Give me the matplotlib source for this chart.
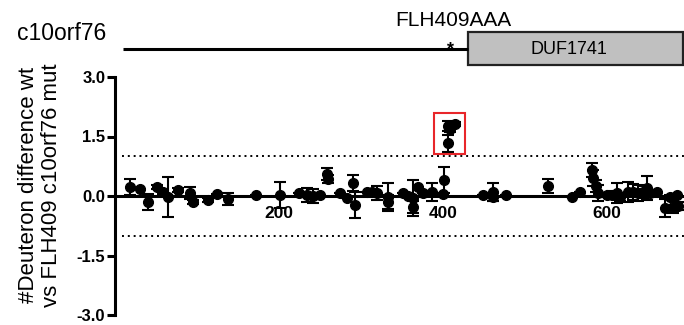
import matplotlib
matplotlib.use('Agg')
import matplotlib.pyplot as plt
from matplotlib.patches import Rectangle

plt.rcParams['font.family'] = ['Liberation Sans', 'DejaVu Sans']

# residue position, deuteron difference, sd
residue = [18, 30, 40, 51, 58, 65, 77, 91, 95, 113, 124, 138,
           172, 201, 224, 234, 242, 250, 258, 260, 274, 283,
           290, 293, 307, 313, 320, 333, 333, 351, 357, 363, 363,
           370, 376, 387, 400, 401,
           406, 409, 415, 406,
           449, 461, 461, 477, 528, 557, 567,
           582, 583, 587, 589, 600, 606, 612, 616, 626, 632, 638, 644,
           649, 652, 661, 671, 677, 680, 685, 687]
diff = [0.23, 0.17, -0.15, 0.23, 0.10, -0.03, 0.15, 0.07, -0.15, -0.10, 0.05, -0.08,
        0.03, 0.02, 0.07, 0.02, 0.0, 0.02, 0.55, 0.42, 0.07, -0.05,
        0.33, -0.22, 0.10, 0.10, 0.07, -0.03, -0.15, 0.07, 0.0, -0.05, -0.27,
        0.23, 0.07, 0.10, 0.05, 0.40,
        1.77, 1.70, 1.82, 1.33,
        0.02, 0.10, -0.03, 0.02, 0.25, -0.03, 0.10,
        0.65, 0.45, 0.25, 0.07, 0.02, 0.02, 0.07, -0.02, 0.10, 0.10, 0.08, 0.10,
        0.20, 0.07, 0.10, -0.30, -0.03, -0.27, 0.02, -0.25]
sd = [0.20, 0.0, 0.20, 0.05, 0.05, 0.50, 0.05, 0.15, 0.05, 0.05, 0.0, 0.15,
      0.0, 0.33, 0.0, 0.17, 0.17, 0.0, 0.15, 0.10, 0.0, 0.0,
      0.20, 0.33, 0.0, 0.05, 0.17, 0.35, 0.18, 0.0, 0.0, 0.45, 0.15,
      0.0, 0.0, 0.22, 0.0, 0.33,
      0.12, 0.08, 0.05, 0.22,
      0.0, 0.22, 0.10, 0.0, 0.18, 0.0, 0.0,
      0.18, 0.20, 0.15, 0.20, 0.05, 0.10, 0.25, 0.10, 0.25, 0.20, 0.20, 0.15,
      0.30, 0.0, 0.0, 0.22, 0.05, 0.15, 0.0, 0.10]

yticks = [-3.0, -1.5, 0.0, 1.5, 3.0]
xticks = [200, 400, 600]
threshold = 1.0

fig = plt.figure(figsize=(6.84, 3.25), dpi=100)
ax = fig.add_axes([115 / 684, 10 / 325, 569 / 684, 238 / 325])
xmax = 569 / 0.82

ax.spines['top'].set_visible(False)
ax.spines['right'].set_visible(False)
ax.spines['left'].set_linewidth(2.2)
ax.spines['bottom'].set_position(('data', 0))
ax.spines['bottom'].set_linewidth(2.2)
ax.spines['bottom'].set_zorder(2)

ax.errorbar(residue, diff, yerr=sd, fmt='o', color='black', markersize=7,
            elinewidth=1.5, capsize=4.5, capthick=1.5, zorder=3, clip_on=False)
ax.axhline(threshold, color='black', ls=(0, (1, 2)), lw=1.4, xmin=0.012)
ax.axhline(-threshold, color='black', ls=(0, (1, 2)), lw=1.4, xmin=0.012)

ax.set_xlim(0, xmax)
ax.set_ylim(-3, 3)
ax.set_yticks(yticks)
ax.set_yticklabels([f'{t:.1f}' for t in yticks], fontweight='bold', fontsize=12)
ax.set_xticks(xticks)
ax.set_xticklabels([str(t) for t in xticks], fontweight='bold', fontsize=12.5)
ax.tick_params(axis='y', length=6, width=2.2, pad=1)
ax.tick_params(axis='x', length=0, pad=7)

# highlighted peptides
ax.add_patch(Rectangle((389, 1.06), 38, 1.03, fill=False, edgecolor='#e8262a',
                       lw=1.5, zorder=4))

fig.text(40 / 684, 1 - 185 / 325,
         '#Deuteron difference wt\nvs FLH409 c10orf76 mut',
         rotation=90, ha='center', va='center', multialignment='center',
         fontsize=16, linespacing=1.15)

# domain diagram
top = fig.add_axes([115 / 684, 1 - 70 / 325, 569 / 684, 70 / 325])
top.set_xlim(0, xmax)
top.set_ylim(70, 0)
top.axis('off')
top.plot([10, 430], [49, 49], color='black', lw=2.2, solid_capstyle='butt')
top.add_patch(Rectangle((430, 32), xmax - 430 - 1, 33, facecolor='#c0c0c0',
                        edgecolor='#222222', lw=1.6, clip_on=False))
top.text(553, 49, 'DUF1741', ha='center', va='center', fontsize=13)
top.text(409, 54, '*', ha='center', va='baseline', fontsize=13, fontweight='bold')
top.text(412, 20, 'FLH409AAA', ha='center', va='center', fontsize=15)
top.text(-65, 34, 'c10orf76', ha='center', va='center', fontsize=16.5, clip_on=False)

plt.savefig('out.png', dpi=100)
